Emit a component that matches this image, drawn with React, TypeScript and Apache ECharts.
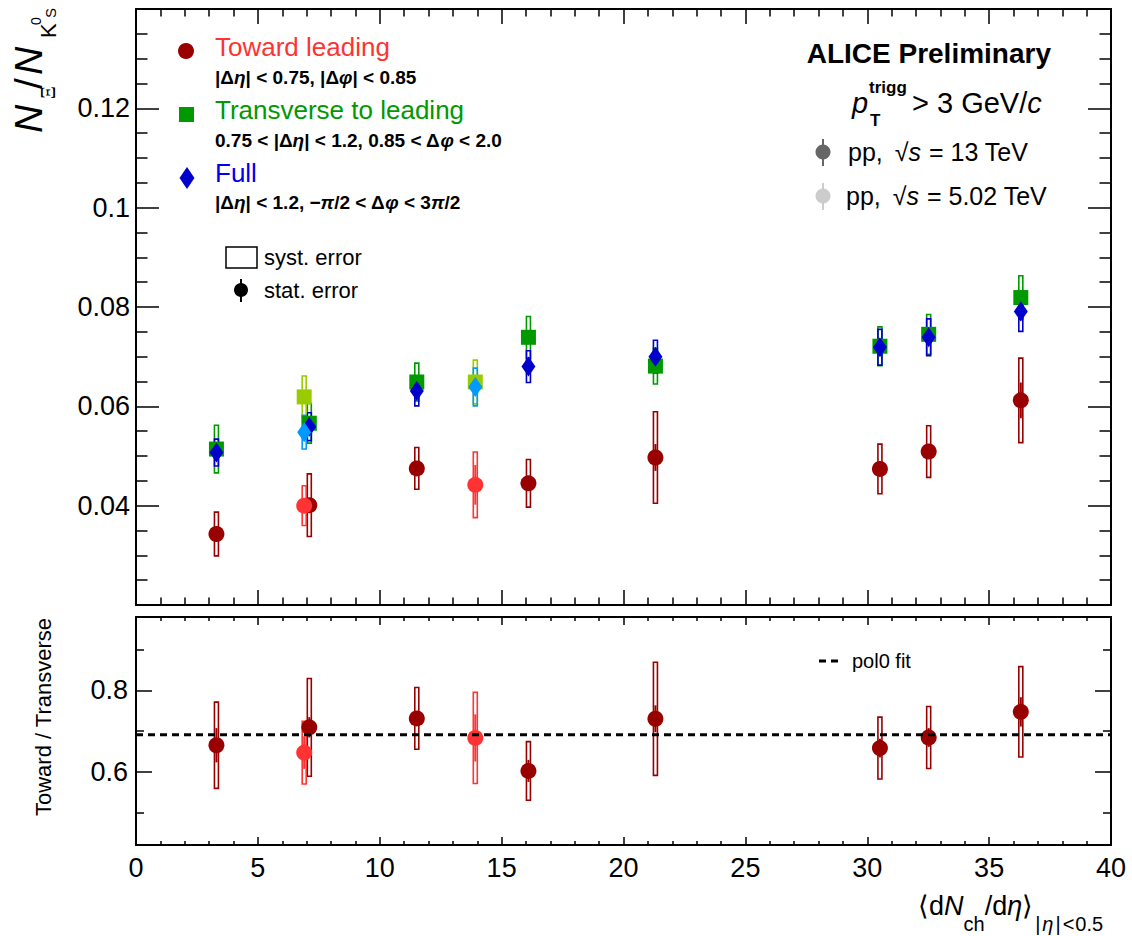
import React, { useEffect, useRef } from "react";
import * as echarts from "echarts";

// ---------- data ----------
const x13 = [3.3, 7.11, 11.52, 16.1, 21.31, 30.52, 32.52, 36.3];
const x502 = [6.9, 13.92];

const toward13 = [0.0343, 0.0401, 0.0475, 0.0445, 0.0497, 0.0474, 0.0509, 0.0612];
const toward13Stat = [0.001, 0.0012, 0.001, 0.0012, 0.0027, 0.0015, 0.0015, 0.0036];
const toward13Syst = [0.0044, 0.0063, 0.0042, 0.0048, 0.0092, 0.005, 0.0052, 0.0085];

const trans13 = [0.0514, 0.0566, 0.0649, 0.0739, 0.0681, 0.0721, 0.0745, 0.0819];
const trans13Stat = [0.001, 0.001, 0.001, 0.001, 0.001, 0.001, 0.001, 0.0012];
const trans13Syst = [0.0048, 0.004, 0.0038, 0.0042, 0.0036, 0.0039, 0.004, 0.0044];

const full13 = [0.0507, 0.0559, 0.0631, 0.068, 0.07, 0.0719, 0.0739, 0.0791];
const full13Stat = [0.0008, 0.0008, 0.0008, 0.0008, 0.0008, 0.0008, 0.0008, 0.001];
const full13Syst = [0.0027, 0.0028, 0.003, 0.0032, 0.0033, 0.0036, 0.0037, 0.004];

const toward502 = [0.04, 0.0442];
const toward502Stat = [0.0015, 0.004];
const toward502Syst = [0.004, 0.0066];

const trans502 = [0.0619, 0.0649];
const trans502Stat = [0.0012, 0.0012];
const trans502Syst = [0.0042, 0.0044];

const full502 = [0.0548, 0.0639];
const full502Stat = [0.001, 0.001];
const full502Syst = [0.0034, 0.0038];

const ratio13 = [0.665, 0.709, 0.731, 0.602, 0.73, 0.658, 0.684, 0.747];
const ratio13Stat = [0.042, 0.025, 0.018, 0.027, 0.033, 0.023, 0.023, 0.036];
const ratio13Syst = [0.106, 0.12, 0.076, 0.072, 0.139, 0.076, 0.076, 0.111];

const ratio502 = [0.647, 0.683];
const ratio502Stat = [0.04, 0.058];
const ratio502Syst = [0.077, 0.112];

const pol0Fit = 0.691;
const xRange = [0, 40];

const topYTicksMinor = 4;
const ratioMajorTicks = [0.6, 0.8];
const ratioMinorTicks = [0.5, 0.7, 0.9];

// ---------- colours ----------
const C_TOW13 = "#990000";
const C_TOW502 = "#ff3333";
const C_TRA13 = "#009900";
const C_TRA502 = "#99cc00";
const C_FUL13 = "#0000cc";
const C_FUL502 = "#0099ff";

const FONT = '"Liberation Sans", Arial, Helvetica, sans-serif';
const SERIF = '"Liberation Serif", "DejaVu Serif", serif';

let _ctx: CanvasRenderingContext2D | null = null;
function measure(t: string, s: number, it?: boolean, b?: boolean, fam?: string) {
  if (!_ctx) _ctx = document.createElement("canvas").getContext("2d");
  if (!_ctx) return t.length * s * 0.55;
  _ctx.font = `${it ? "italic " : ""}${b ? "bold " : ""}${s}px ${fam || FONT}`;
  return _ctx.measureText(t).width;
}

type Seg = { t: string; s: number; it?: boolean; b?: boolean; dy?: number; fam?: string; c?: string; stack?: boolean; gap?: number };

function txt(x: number, base: number, t: string, s: number, o: any = {}) {
  return {
    type: "text",
    x,
    y: base - 0.347 * s,
    z: 100,
    style: {
      text: t,
      fill: o.c || "#000",
      fontSize: s,
      fontFamily: o.fam || FONT,
      fontStyle: o.it ? "italic" : "normal",
      fontWeight: o.b ? "bold" : "normal",
      align: o.align || "left",
      verticalAlign: "middle",
    },
  };
}

function run(x0: number, base: number, segs: Seg[], color = "#000") {
  const els: any[] = [];
  let x = x0;
  let lastStart = x0;
  let lastW = 0;
  for (const sg of segs) {
    const w = measure(sg.t, sg.s, sg.it, sg.b, sg.fam);
    let sx: number;
    if (sg.stack) {
      sx = lastStart;
      const nw = Math.max(lastW, w);
      x = lastStart + nw;
      lastW = nw;
    } else {
      x += sg.gap || 0;
      sx = x;
      x += w;
      lastStart = sx;
      lastW = w;
    }
    els.push(txt(sx, base + (sg.dy || 0), sg.t, sg.s, { it: sg.it, b: sg.b, fam: sg.fam, c: sg.c || color }));
  }
  return els;
}

// ---------- series helpers ----------
function systSeries(xs: number[], ys: number[], es: number[], color: string, xi: number, yi: number, w = 4) {
  return {
    type: "custom",
    xAxisIndex: xi,
    yAxisIndex: yi,
    silent: true,
    clip: false,
    data: xs.map((x, i) => [x, ys[i], es[i]]),
    renderItem: (_p: any, api: any) => {
      const x = api.value(0);
      const y = api.value(1);
      const e = api.value(2);
      const t = api.coord([x, y + e]);
      const b = api.coord([x, y - e]);
      return {
        type: "rect",
        shape: { x: t[0] - w / 2, y: t[1], width: w, height: b[1] - t[1] },
        style: { fill: "none", stroke: color, lineWidth: 1.6 },
      };
    },
  };
}

function statSeries(xs: number[], ys: number[], es: number[], color: string, xi: number, yi: number) {
  return {
    type: "custom",
    xAxisIndex: xi,
    yAxisIndex: yi,
    silent: true,
    clip: false,
    data: xs.map((x, i) => [x, ys[i], es[i]]),
    renderItem: (_p: any, api: any) => {
      const x = api.value(0);
      const y = api.value(1);
      const e = api.value(2);
      const t = api.coord([x, y + e]);
      const b = api.coord([x, y - e]);
      return {
        type: "line",
        shape: { x1: t[0], y1: t[1], x2: b[0], y2: b[1] },
        style: { stroke: color, lineWidth: 2 },
      };
    },
  };
}

function markSeries(xs: number[], ys: number[], color: string, symbol: string, size: any, xi: number, yi: number) {
  return {
    type: "scatter",
    xAxisIndex: xi,
    yAxisIndex: yi,
    symbol,
    symbolSize: size,
    silent: true,
    itemStyle: { color, opacity: 1 },
    data: xs.map((x, i) => [x, ys[i]]),
  };
}

function group(xs: number[], ys: number[], st: number[], sy: number[], color: string, symbol: string, size: any, xi: number, yi: number) {
  return [systSeries(xs, ys, sy, color, xi, yi), statSeries(xs, ys, st, color, xi, yi), markSeries(xs, ys, color, symbol, size, xi, yi)];
}

const LINE = { color: "#000", width: 2 };
const TICK = { color: "#000", width: 1.5 };

function xAx(grid: number, pos: string, labels: boolean, major: number, minor: number) {
  return {
    type: "value",
    gridIndex: grid,
    position: pos,
    min: xRange[0],
    max: xRange[1],
    interval: 5,
    axisLine: { show: true, onZero: false, lineStyle: LINE },
    axisTick: { show: true, inside: true, length: major, lineStyle: TICK },
    minorTick: { show: true, splitNumber: 5, length: minor, lineStyle: TICK },
    axisLabel: { show: labels, fontSize: 27, fontFamily: FONT, color: "#000", margin: 9 },
    splitLine: { show: false },
    minorSplitLine: { show: false },
  };
}

function topY(pos: string, labels: boolean) {
  return {
    type: "value",
    gridIndex: 0,
    position: pos,
    min: 0.02,
    max: 0.14,
    interval: 0.02,
    axisLine: { show: true, onZero: false, lineStyle: LINE },
    axisTick: { show: true, inside: true, length: 23, lineStyle: TICK },
    minorTick: { show: true, splitNumber: topYTicksMinor, length: 11.5, lineStyle: TICK },
    axisLabel: { show: labels, fontSize: 27, fontFamily: FONT, color: "#000", margin: 6, showMinLabel: false, showMaxLabel: false },
    splitLine: { show: false },
  };
}

function ratioY(pos: string, labels: boolean, minor: boolean) {
  return {
    type: "value",
    gridIndex: 1,
    position: pos,
    min: 0.42,
    max: 0.98,
    axisLine: { show: !minor, onZero: false, lineStyle: LINE },
    axisTick: { show: true, inside: true, length: minor ? 8 : 16, lineStyle: TICK, customValues: minor ? ratioMinorTicks : ratioMajorTicks },
    axisLabel: { show: labels, fontSize: 27, fontFamily: FONT, color: "#000", margin: 8, customValues: ratioMajorTicks },
    splitLine: { show: false },
  };
}

function buildGraphic() {
  const g: any[] = [];
  // y title top panel (rotated)
  const yt: any[] = [
    txt(0, 0, "N", 39, { it: true }),
    txt(34, 13, "Ξ", 20, { fam: SERIF }),
    txt(44, 0, "/", 39),
    txt(58, 0, "N", 39, { it: true }),
    txt(95, 14, "K", 22),
    txt(108, -1, "0", 14),
    txt(115, 14, "S", 15),
  ];
  g.push({ type: "group", x: 42, y: 133, rotation: Math.PI / 2, children: yt });

  // y title ratio panel
  g.push({
    type: "text",
    x: 43,
    y: 717,
    rotation: Math.PI / 2,
    z: 100,
    style: { text: "Toward / Transverse", fontSize: 22, fontFamily: FONT, fill: "#000", align: "center", verticalAlign: "middle" },
  });

  // x title
  g.push(
    ...run(918, 915, [
      { t: "⟨", s: 27 },
      { t: "d", s: 27 },
      { t: "N", s: 27, it: true },
      { t: "ch", s: 20, dy: 16 },
      { t: "/d", s: 27 },
      { t: "η", s: 27, it: true },
      { t: "⟩", s: 27 },
      { t: "|", s: 20, dy: 16, gap: 2 },
      { t: "η", s: 20, dy: 16, it: true, gap: 2 },
      { t: "|", s: 20, dy: 16, gap: 2 },
      { t: "<", s: 20, dy: 16, gap: 2 },
      { t: "0.5", s: 20, dy: 16, gap: 1 },
    ])
  );

  // left legend
  g.push({ type: "circle", z: 100, shape: { cx: 186, cy: 51, r: 8 }, style: { fill: C_TOW13 } });
  g.push(txt(215, 56, "Toward leading", 26, { c: C_TOW502 }));
  g.push(
    ...run(215, 84, [
      { t: "|Δ", s: 19, b: true },
      { t: "η", s: 19, b: true, it: true },
      { t: "| < 0.75, |Δ", s: 19, b: true },
      { t: "φ", s: 19, b: true, it: true },
      { t: "| < 0.85", s: 19, b: true },
    ])
  );
  g.push({ type: "rect", z: 100, shape: { x: 179, y: 107, width: 15, height: 15 }, style: { fill: C_TRA13 } });
  g.push(txt(215, 119, "Transverse to leading", 26, { c: C_TRA13 }));
  g.push(
    ...run(215, 147, [
      { t: "0.75 < |Δ", s: 19, b: true },
      { t: "η", s: 19, b: true, it: true },
      { t: "| < 1.2, 0.85 < Δ", s: 19, b: true },
      { t: "φ", s: 19, b: true, it: true },
      { t: " < 2.0", s: 19, b: true },
    ])
  );
  g.push({ type: "polygon", z: 100, shape: { points: [[187, 167], [194.5, 178], [187, 189], [179.5, 178]] }, style: { fill: C_FUL13 } });
  g.push(txt(215, 182, "Full", 26, { c: "#0000ee" }));
  g.push(
    ...run(215, 209, [
      { t: "|Δ", s: 19, b: true },
      { t: "η", s: 19, b: true, it: true },
      { t: "| < 1.2, −", s: 19, b: true },
      { t: "π", s: 19, b: true, it: true },
      { t: "/2 < Δ", s: 19, b: true },
      { t: "φ", s: 19, b: true, it: true },
      { t: " < 3", s: 19, b: true },
      { t: "π", s: 19, b: true, it: true },
      { t: "/2", s: 19, b: true },
    ])
  );

  // syst / stat legend
  g.push({ type: "rect", z: 100, shape: { x: 226, y: 247, width: 31, height: 21 }, style: { fill: "none", stroke: "#000", lineWidth: 1.5 } });
  g.push(txt(264, 265, "syst. error", 22));
  g.push({ type: "line", z: 100, shape: { x1: 241, y1: 279, x2: 241, y2: 302 }, style: { stroke: "#000", lineWidth: 2 } });
  g.push({ type: "circle", z: 100, shape: { cx: 241, cy: 290, r: 7 }, style: { fill: "#000" } });
  g.push(txt(264, 298, "stat. error", 22));

  // right block
  g.push(txt(1051, 63, "ALICE Preliminary", 28, { b: true, align: "right" }));
  g.push(txt(852, 113, "p", 29, { it: true }));
  g.push(txt(869, 93, "trigg", 17, { b: true }));
  g.push(txt(870, 126, "T", 17, { b: true }));
  g.push(
    ...run(912, 113, [
      { t: "> 3 GeV/", s: 29 },
      { t: "c", s: 29, it: true },
    ])
  );
  g.push({ type: "line", z: 100, shape: { x1: 823, y1: 139, x2: 823, y2: 166 }, style: { stroke: "#666666", lineWidth: 2 } });
  g.push({ type: "circle", z: 100, shape: { cx: 823, cy: 152, r: 7.5 }, style: { fill: "#666666" } });
  g.push(
    ...run(848, 161, [
      { t: "pp,", s: 25 },
      { t: "√", s: 25, gap: 12 },
      { t: "s", s: 25, it: true },
      { t: "= 13 TeV", s: 25, gap: 8 },
    ])
  );
  g.push({ type: "line", z: 100, shape: { x1: 823, y1: 183, x2: 823, y2: 210 }, style: { stroke: "#cccccc", lineWidth: 2 } });
  g.push({ type: "circle", z: 100, shape: { cx: 823, cy: 196, r: 7.5 }, style: { fill: "#cccccc" } });
  g.push(
    ...run(846, 205, [
      { t: "pp,", s: 25 },
      { t: "√", s: 25, gap: 12 },
      { t: "s", s: 25, it: true },
      { t: "= 5.02 TeV", s: 25, gap: 8 },
    ])
  );

  // pol0 legend
  g.push({ type: "line", z: 100, shape: { x1: 819, y1: 661, x2: 839, y2: 661 }, style: { stroke: "#000", lineWidth: 3, lineDash: [7, 5] } });
  g.push(txt(852, 668, "pol0 fit", 20));
  return g;
}

export default function App() {
  const ref = useRef<HTMLDivElement>(null);
  useEffect(() => {
    if (!ref.current) return;
    const chart = echarts.init(ref.current, undefined, { renderer: "svg" });
    const series: any[] = [
      {
        type: "line",
        xAxisIndex: 2,
        yAxisIndex: 2,
        symbol: "none",
        silent: true,
        lineStyle: { color: "#000", width: 3, type: [7, 5] },
        data: [
          [xRange[0], pol0Fit],
          [xRange[1], pol0Fit],
        ],
      },
      ...group(x13, toward13, toward13Stat, toward13Syst, C_TOW13, "circle", 16, 0, 0),
      ...group(x13, trans13, trans13Stat, trans13Syst, C_TRA13, "rect", 15, 0, 0),
      ...group(x13, full13, full13Stat, full13Syst, C_FUL13, "diamond", [14, 20], 0, 0),
      ...group(x502, toward502, toward502Stat, toward502Syst, C_TOW502, "circle", 16, 0, 0),
      ...group(x502, trans502, trans502Stat, trans502Syst, C_TRA502, "rect", 15, 0, 0),
      ...group(x502, full502, full502Stat, full502Syst, C_FUL502, "diamond", [14, 20], 0, 0),
      ...group(x13, ratio13, ratio13Stat, ratio13Syst, C_TOW13, "circle", 16, 2, 2),
      ...group(x502, ratio502, ratio502Stat, ratio502Syst, C_TOW502, "circle", 16, 2, 2),
    ];
    chart.setOption({
      animation: false,
      backgroundColor: "#fff",
      textStyle: { fontFamily: FONT },
      grid: [
        { left: 136, top: 9, width: 975, height: 596 },
        { left: 136, top: 617, width: 975, height: 228 },
      ],
      xAxis: [xAx(0, "bottom", false, 15, 7.5), xAx(0, "top", false, 15, 7.5), xAx(1, "bottom", true, 8, 4), xAx(1, "top", false, 8, 4)],
      yAxis: [topY("left", true), topY("right", false), ratioY("left", true, false), ratioY("left", false, true), ratioY("right", false, false), ratioY("right", false, true)],
      graphic: buildGraphic(),
      series,
    });
    return () => chart.dispose();
  }, []);
  return <div ref={ref} style={{ position: "absolute", left: 0, top: 0, width: 1132, height: 936 }} />;
}
